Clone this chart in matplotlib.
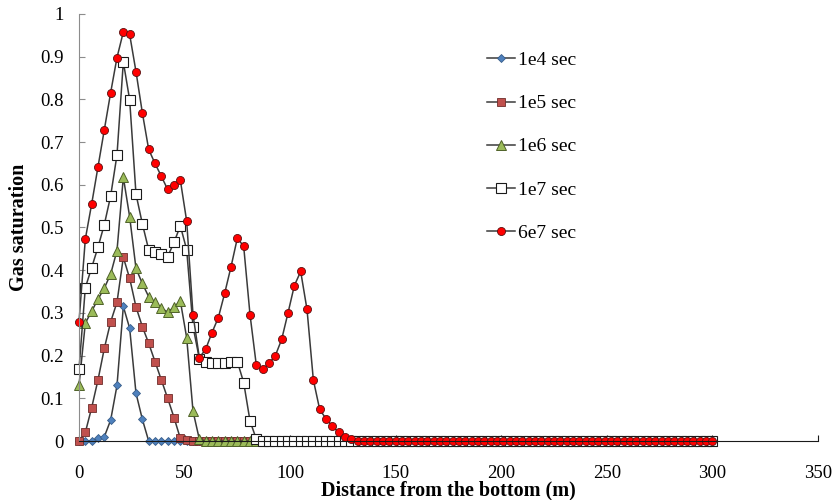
import matplotlib.pyplot as plt
from matplotlib.ticker import MultipleLocator, FormatStrFormatter

# distance from the bottom (m), one point every 3 m
distance = list(range(0, 301, 3))
n_pts = len(distance)

# gas saturation; trailing values are all zero
sat_1e4 = [0.0, 0.0, 0.0, 0.006, 0.01, 0.049, 0.130, 0.315, 0.264, 0.112,
           0.051, 0.0]
sat_1e5 = [0.0, 0.02, 0.078, 0.143, 0.217, 0.279, 0.325, 0.430, 0.381, 0.314,
           0.268, 0.229, 0.186, 0.143, 0.100, 0.055, 0.006, 0.002]
sat_1e6 = [0.130, 0.276, 0.304, 0.332, 0.358, 0.391, 0.446, 0.618, 0.525, 0.404,
           0.369, 0.338, 0.325, 0.311, 0.302, 0.313, 0.328, 0.242, 0.070, 0.004]
sat_1e7 = [0.168, 0.359, 0.406, 0.454, 0.507, 0.574, 0.670, 0.888, 0.799, 0.578,
           0.509, 0.448, 0.442, 0.437, 0.432, 0.465, 0.504, 0.448, 0.268, 0.193,
           0.184, 0.183, 0.183, 0.183, 0.186, 0.186, 0.137, 0.047, 0.004]
sat_6e7 = [0.279, 0.473, 0.555, 0.642, 0.729, 0.816, 0.898, 0.958, 0.952, 0.865,
           0.769, 0.683, 0.650, 0.620, 0.589, 0.599, 0.611, 0.515, 0.296, 0.195,
           0.215, 0.254, 0.289, 0.346, 0.408, 0.475, 0.456, 0.296, 0.177, 0.168,
           0.182, 0.200, 0.238, 0.300, 0.364, 0.397, 0.308, 0.143, 0.074, 0.052,
           0.035, 0.020, 0.010, 0.005]

labels = ["1e4 sec", "1e5 sec", "1e6 sec", "1e7 sec", "6e7 sec"]


def pad(vals):
    return vals + [0.0] * (n_pts - len(vals))


series = [pad(sat_1e4), pad(sat_1e5), pad(sat_1e6), pad(sat_1e7), pad(sat_6e7)]
styles = [
    dict(marker='D', ms=4.2, mfc='#4F81BD', mec='#385D8A', mew=0.6),
    dict(marker='s', ms=5.2, mfc='#C0504D', mec='#6E2D2B', mew=0.6),
    dict(marker='^', ms=7.5, mfc='#9BBB59', mec='#4F6228', mew=0.7),
    dict(marker='s', ms=7.0, mfc='white', mec='#1A1A1A', mew=0.8),
    dict(marker='o', ms=5.8, mfc='#FF0000', mec='#5A1010', mew=0.6),
]

plt.rcParams['font.family'] = ['Liberation Serif', 'DejaVu Serif']

fig = plt.figure(figsize=(8.35, 5), dpi=100)
ax = fig.add_axes([0.0946, 0.118, 0.885, 0.854])

for vals, lab, st in zip(series, labels, styles):
    ax.plot(distance, vals, color='#3A3A3A', linewidth=1.1, label=lab,
            clip_on=False, **st)

ax.set_xlim(0, 350)
ax.set_ylim(0, 1)
ax.xaxis.set_major_locator(MultipleLocator(50))
ax.yaxis.set_major_locator(MultipleLocator(0.1))
ax.yaxis.set_major_formatter(FormatStrFormatter('%g'))

for s in ['top', 'right']:
    ax.spines[s].set_visible(False)
ax.spines['left'].set_color('#8C8C8C')
ax.spines['bottom'].set_color('#1A1A1A')
ax.tick_params(axis='y', direction='in', length=4, color='#8C8C8C',
               labelsize=13.5, pad=11)
ax.tick_params(axis='x', direction='in', length=4, color='#1A1A1A',
               labelsize=13.5, pad=17)

ax.set_xlabel('Distance from the bottom (m)', fontsize=14.5, fontweight='bold',
              labelpad=-1)
ax.set_ylabel('Gas saturation', fontsize=14.5, fontweight='bold', labelpad=8)

ax.legend(loc='upper left', bbox_to_anchor=(0.541, 0.93), frameon=False,
          fontsize=14, labelspacing=1.31, handlelength=1.44, handletextpad=0.2,
          borderaxespad=0)

fig.savefig('out.png', dpi=100)
